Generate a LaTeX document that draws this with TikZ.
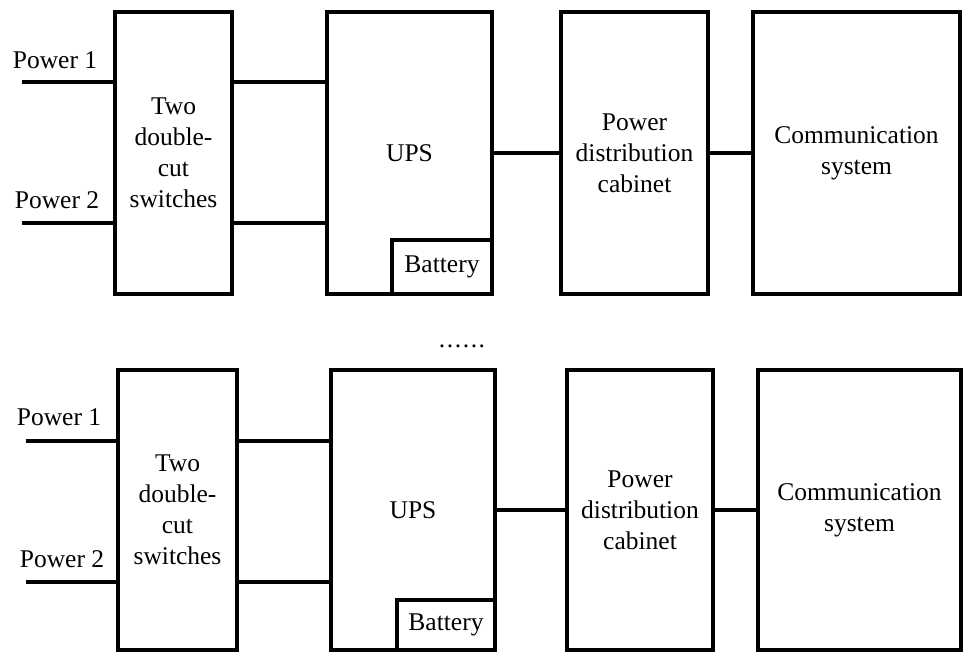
\documentclass[tikz,border=0pt]{standalone}
\usepackage{fontspec}
\setmainfont{Liberation Serif}
\begin{document}
\begin{tikzpicture}[x=1pt,y=-1pt,
  box/.style={draw, line width=4pt, rectangle, inner sep=0pt, outer sep=0pt, align=center},
  wire/.style={line width=4pt},
  lbl/.style={inner sep=0pt}]
\useasboundingbox (0,0) rectangle (963,653);
\tikzset{every node/.append style={font=\fontsize{25.5}{31}\selectfont}}
% ---------- top row ----------
\node[box, minimum width=117pt, minimum height=282pt] (swA) at (173.5,153) {Two\\double-\\cut\\switches};
\node[box, minimum width=165pt, minimum height=282pt] (upsA) at (409.5,153) {UPS};
\node[box, minimum width=100pt, minimum height=54pt] (batA) at (442,267) {Battery};
\node[box, minimum width=147pt, minimum height=282pt] (pdcA) at (634.5,153) {Power\\distribution\\cabinet};
\node[box, minimum width=207pt, minimum height=282pt] (comA) at (856.5,153) {Communication\\system};
\node[lbl] (p1A) at (55,60) {Power 1};
\node[lbl] (p2A) at (57,200) {Power 2};
\coordinate (e1A) at (22,82);
\coordinate (e2A) at (22,223);
\draw[wire] (e1A) -- (e1A -| swA.west);
\draw[wire] (e2A) -- (e2A -| swA.west);
\draw[wire] (e1A -| swA.east) -- (e1A -| upsA.west);
\draw[wire] (e2A -| swA.east) -- (e2A -| upsA.west);
\draw[wire] (upsA.east) -- (pdcA.west);
\draw[wire] (pdcA.east) -- (comA.west);
% ---------- dots ----------
\node[lbl] (dots) at (462,346) {.\kern1.6pt.\kern1.6pt.\kern1.6pt.\kern1.6pt.\kern1.6pt.};
% ---------- bottom row ----------
\node[box, minimum width=119pt, minimum height=280pt] (swB) at (177.5,510) {Two\\double-\\cut\\switches};
\node[box, minimum width=164pt, minimum height=280pt] (upsB) at (413,510) {UPS};
\node[box, minimum width=98pt, minimum height=50pt] (batB) at (446,625) {Battery};
\node[box, minimum width=146pt, minimum height=280pt] (pdcB) at (640,510) {Power\\distribution\\cabinet};
\node[box, minimum width=203pt, minimum height=280pt] (comB) at (859.5,510) {Communication\\system};
\node[lbl] (p1B) at (59,417) {Power 1};
\node[lbl] (p2B) at (62,559) {Power 2};
\coordinate (e1B) at (26,441);
\coordinate (e2B) at (26,582);
\draw[wire] (e1B) -- (e1B -| swB.west);
\draw[wire] (e2B) -- (e2B -| swB.west);
\draw[wire] (e1B -| swB.east) -- (e1B -| upsB.west);
\draw[wire] (e2B -| swB.east) -- (e2B -| upsB.west);
\draw[wire] (upsB.east) -- (pdcB.west);
\draw[wire] (pdcB.east) -- (comB.west);
\end{tikzpicture}
\end{document}
